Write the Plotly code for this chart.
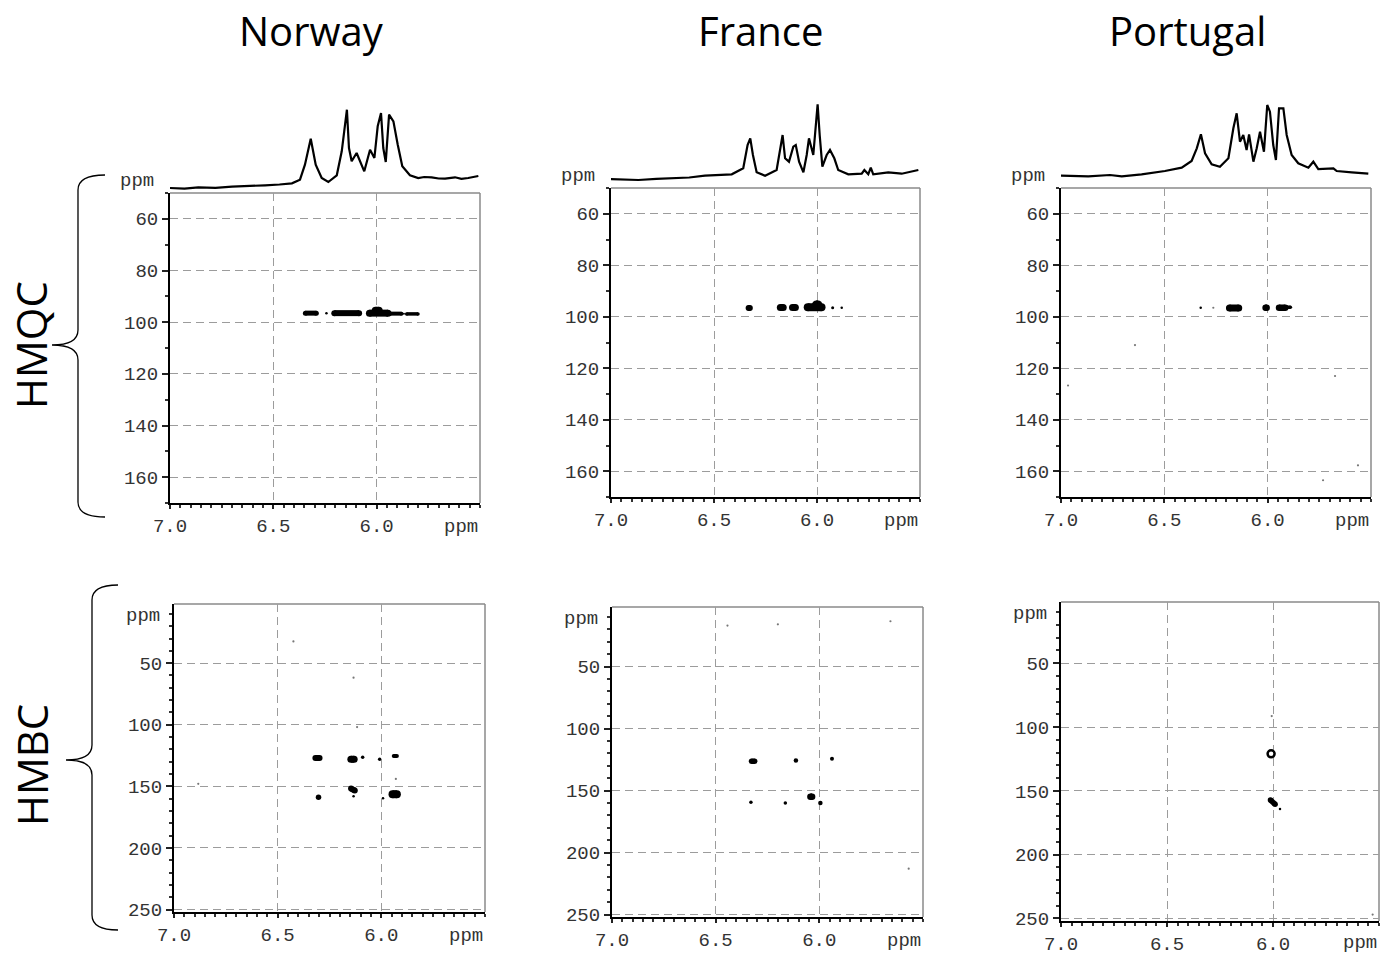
import plotly.graph_objects as go

W, H = 1396, 956

# ---------------- data ----------------
countries = ["Norway", "France", "Portugal"]
experiments = ["HMQC", "HMBC"]

x_tickvals = [7.0, 6.5, 6.0]
x_ticktext = ["7.0", "6.5", "6.0"]
hmqc_yticks = [60, 80, 100, 120, 140, 160]
hmbc_yticks = [50, 100, 150, 200, 250]

# 1D 1H projections (ppm, relative intensity)
spec_norway_ppm = [7.00, 6.93, 6.863, 6.78, 6.70, 6.62, 6.54, 6.47, 6.41, 6.371, 6.347, 6.319, 6.295, 6.266,
                   6.234, 6.193, 6.169, 6.157, 6.144, 6.134, 6.121, 6.097, 6.076, 6.06, 6.032, 6.011,
                   5.995, 5.979, 5.968, 5.956, 5.94, 5.919, 5.898, 5.876, 5.839, 5.799, 5.77, 5.734,
                   5.70, 5.669, 5.621, 5.59, 5.557, 5.508]
spec_norway_int = [5, 4.3, 5.7, 5.2, 6.3, 6.8, 7.7, 8.5, 9.7, 13.3, 28.3, 54.3, 28.3, 15,
                   11, 17.7, 41.7, 61.7, 83.3, 45, 31.7, 40, 30, 21.7, 43.3, 35,
                   66.7, 80, 45, 31, 78.3, 71.7, 48.3, 26.7, 17.7, 15, 16, 15.7,
                   14.5, 14.3, 15.7, 14.2, 15, 17]

spec_france_ppm = [7.005, 6.94, 6.867, 6.78, 6.705, 6.62, 6.544, 6.414, 6.358, 6.337, 6.324, 6.311, 6.293,
                   6.252, 6.196, 6.176, 6.167, 6.155, 6.136, 6.115, 6.103, 6.087, 6.066, 6.05, 6.039,
                   6.018, 6.006, 5.997, 5.987, 5.974, 5.953, 5.937, 5.916, 5.897, 5.848, 5.783, 5.77,
                   5.751, 5.739, 5.727, 5.654, 5.589, 5.508]
spec_france_int = [9, 8.2, 8, 9.2, 9.7, 10.5, 12.3, 13.7, 19.7, 43, 49.7, 33, 15.7,
                   12.3, 18, 39.7, 53, 29.7, 26.3, 41.3, 43, 26.3, 15.7, 33, 49.7,
                   33, 59.7, 83.7, 53, 21.3, 33, 38, 29.7, 18, 13.7, 14.3, 18,
                   13.7, 20.3, 13.7, 15.7, 14.3, 18]

spec_portugal_ppm = [7.005, 6.868, 6.763, 6.706, 6.61, 6.497, 6.416, 6.368, 6.343, 6.323, 6.303, 6.271,
                     6.231, 6.19, 6.166, 6.15, 6.134, 6.118, 6.102, 6.09, 6.069, 6.053, 6.037, 6.018,
                     6.002, 5.989, 5.973, 5.96, 5.945, 5.924, 5.908, 5.884, 5.852, 5.803, 5.779, 5.755,
                     5.682, 5.666, 5.593, 5.513]
spec_portugal_int = [12.3, 11.7, 13, 11.7, 13.7, 17, 20.3, 27, 39.7, 53.7, 34.7, 23.7,
                     21.3, 29.7, 59.7, 74.7, 46.3, 53, 38, 53.7, 26.3, 39.7, 56.3, 36.3,
                     83, 76.3, 43, 28, 79.7, 79.7, 53, 33, 24.7, 20.3, 26.3, 19,
                     19.7, 17, 15.7, 14.3]

# cross peaks: (1H start, 1H end, 13C start, 13C end, strength)
hmqc_norway = [(6.345, 6.292, 96.5, 96.5, 5), (6.243, 6.243, 96.5, 96.5, 2.5),
               (6.205, 6.085, 96.5, 96.5, 6), (6.035, 5.945, 96.5, 96.5, 7),
               (6.005, 5.99, 95.6, 95.6, 8), (5.935, 5.88, 96.7, 96.7, 4),
               (5.868, 5.868, 96.7, 96.7, 2), (5.855, 5.80, 96.8, 96.8, 3.5)]
hmqc_france = [(6.332, 6.326, 96.6, 96.6, 6), (6.178, 6.164, 96.4, 96.4, 7),
               (6.119, 6.105, 96.4, 96.4, 7), (6.045, 5.978, 96.3, 96.3, 8),
               (6.003, 5.995, 95.4, 95.4, 9), (5.924, 5.924, 96.5, 96.5, 3),
               (5.88, 5.88, 96.5, 96.5, 2.5)]
hmqc_portugal = [(6.324, 6.324, 96.5, 96.5, 2.5), (6.185, 6.14, 96.6, 96.6, 7),
                 (6.01, 6.005, 96.5, 96.5, 6.5), (5.945, 5.915, 96.5, 96.5, 6.5),
                 (5.91, 5.89, 96.3, 96.3, 3.5)]
hmqc_portugal_faint = [(6.263, 96.5), (6.642, 111), (6.966, 126.7), (5.674, 123), (5.563, 157.7), (5.732, 163.5)]

hmbc_norway = [(6.318, 6.298, 127.0, 127.0, 6), (6.147, 6.131, 128.0, 128.0, 7),
               (6.09, 6.09, 126.4, 126.4, 3.5), (6.008, 6.008, 128.0, 128.0, 3.5),
               (5.94, 5.925, 125.4, 125.4, 4), (6.303, 6.303, 158.8, 158.8, 5.5),
               (6.146, 6.128, 151.8, 153.4, 6), (6.134, 6.134, 158.0, 158.0, 2.5),
               (5.992, 5.992, 159.7, 159.7, 2.5), (5.946, 5.925, 156.4, 156.4, 8)]
hmbc_norway_faint = [(5.93, 144), (6.134, 61.8), (6.424, 32.4), (6.883, 148), (6.117, 101.9)]

hmbc_france = [(6.327, 6.312, 126.4, 126.4, 5.5), (6.113, 6.113, 125.8, 125.8, 4.5),
               (5.939, 5.939, 124.4, 124.4, 4), (6.33, 6.33, 159.4, 159.4, 3.5),
               (6.164, 6.164, 160.0, 160.0, 3.5), (6.043, 6.035, 155.0, 155.0, 6.5),
               (5.995, 5.995, 160.0, 160.0, 4.5)]
hmbc_france_faint = [(6.443, 17), (6.2, 16), (5.657, 13.5), (5.569, 213)]

hmbc_portugal = [(6.012, 5.99, 157.2, 160.6, 5.5), (5.967, 5.967, 164.3, 164.3, 2.5)]
hmbc_portugal_ring = [(6.009, 121.0)]
hmbc_portugal_faint = [(6.006, 91.4), (5.53, 247)]

# ---------------- layout geometry (pixels) ----------------
# (left, right, top, bottom) of each 2D plot box
boxes_hmqc = [(170, 480, 193, 503), (611, 920, 188, 497), (1061, 1371, 188, 497)]
boxes_hmbc = [(174, 485, 604, 912), (612, 923, 607, 917), (1061, 1379, 602, 921)]
title_x = [311, 760, 1187]

HMQC_RANGE = [170, 50]
HMBC_RANGE = [252, 2]
X_RANGE = [7.0, 5.5]
SPEC_RANGE = [0, 95]
SPEC_PX = 95


def fx(p):
    return p / W


def fy(p):
    return 1 - p / H


TICKFONT = dict(family="Liberation Mono, Courier New, monospace", size=19, color="#333")
GRID = dict(showgrid=True, gridcolor="#9c9c9c", griddash="8px,5px", gridwidth=1)

fig = go.Figure()
layout = dict(width=W, height=H, margin=dict(l=0, r=0, t=0, b=0, autoexpand=False),
              paper_bgcolor="white", plot_bgcolor="white", showlegend=False)
shapes = []
annotations = []


def add_2d_axes(idx, box, yrange, yticks):
    l, r, t, b = box
    xa = dict(domain=[fx(l), fx(r)], range=X_RANGE, anchor=f"y{idx}", automargin=False,
              tickmode="array", tickvals=x_tickvals, ticktext=x_ticktext,
              ticks="outside", ticklen=4, tickwidth=1.5, tickcolor="#222",
              showline=True, linecolor="black", linewidth=2, zeroline=False,
              tickfont=TICKFONT, fixedrange=True,
              minor=dict(tickmode="linear", tick0=5.5, dtick=0.05, ticks="outside",
                         ticklen=3, tickcolor="#333", showgrid=False), **GRID)
    ya = dict(domain=[fy(b), fy(t)], range=yrange, anchor=f"x{idx}", automargin=False,
              tickmode="array", tickvals=yticks, ticktext=[str(v) for v in yticks],
              ticks="outside", ticklen=6, tickwidth=1.5, tickcolor="#222",
              showline=True, linecolor="black", linewidth=2, zeroline=False,
              tickfont=TICKFONT, fixedrange=True,
              minor=dict(tickmode="linear", tick0=0, dtick=10, ticks="outside",
                         ticklen=3, tickcolor="#333", showgrid=False), **GRID)
    layout["xaxis" if idx == 1 else f"xaxis{idx}"] = xa
    layout["yaxis" if idx == 1 else f"yaxis{idx}"] = ya
    # thin grey frame on top and right
    shapes.append(dict(type="line", xref="paper", yref="paper", x0=fx(l), x1=fx(r), y0=fy(t), y1=fy(t),
                       line=dict(color="#8a8a8a", width=1.5), layer="below"))
    shapes.append(dict(type="line", xref="paper", yref="paper", x0=fx(r), x1=fx(r), y0=fy(t), y1=fy(b),
                       line=dict(color="#8a8a8a", width=1.5), layer="below"))
    # ppm unit labels
    annotations.append(dict(text="ppm", xref="paper", yref="paper", x=fx(r), y=fy(min(b + 24, 943)),
                            xanchor="right", yanchor="middle", showarrow=False, font=TICKFONT))


def add_peaks(idx, peaks, faint=None, rings=None):
    xa, ya = f"x{idx}", f"y{idx}"
    for (x0, x1, y0, y1, s) in peaks:
        if x0 == x1 and y0 == y1:
            fig.add_trace(go.Scatter(x=[x0], y=[y0], mode="markers", xaxis=xa, yaxis=ya,
                                     marker=dict(size=s, color="black", line=dict(width=0)),
                                     hoverinfo="skip"))
        else:
            fig.add_trace(go.Scatter(x=[x0, x1], y=[y0, y1], mode="lines+markers", xaxis=xa, yaxis=ya,
                                     line=dict(width=s, color="black"),
                                     marker=dict(size=s, color="black", line=dict(width=0)),
                                     hoverinfo="skip"))
    if faint:
        fig.add_trace(go.Scatter(x=[p[0] for p in faint], y=[p[1] for p in faint], mode="markers",
                                 xaxis=xa, yaxis=ya, hoverinfo="skip",
                                 marker=dict(size=2.2, color="#777", line=dict(width=0))))
    if rings:
        fig.add_trace(go.Scatter(x=[p[0] for p in rings], y=[p[1] for p in rings], mode="markers",
                                 xaxis=xa, yaxis=ya, hoverinfo="skip",
                                 marker=dict(size=7, symbol="circle-open", color="black",
                                             line=dict(width=2.5, color="black"))))


# HMQC panels (axes 1-3) with 1D spectra (axes 7-9)
specs = [(spec_norway_ppm, spec_norway_int), (spec_france_ppm, spec_france_int),
         (spec_portugal_ppm, spec_portugal_int)]
hmqc_sets = [(hmqc_norway, None), (hmqc_france, None), (hmqc_portugal, hmqc_portugal_faint)]
for i, box in enumerate(boxes_hmqc):
    idx = i + 1
    add_2d_axes(idx, box, HMQC_RANGE, hmqc_yticks)
    add_peaks(idx, hmqc_sets[i][0], hmqc_sets[i][1])
    l, r, t, b = box
    sidx = i + 7
    layout[f"xaxis{sidx}"] = dict(domain=[fx(l), fx(r)], range=X_RANGE, anchor=f"y{sidx}",
                                  visible=False, fixedrange=True, automargin=False)
    layout[f"yaxis{sidx}"] = dict(domain=[fy(t), fy(t - SPEC_PX)], range=SPEC_RANGE, anchor=f"x{sidx}",
                                  visible=False, fixedrange=True, automargin=False)
    fig.add_trace(go.Scatter(x=specs[i][0], y=specs[i][1], mode="lines", xaxis=f"x{sidx}",
                             yaxis=f"y{sidx}", line=dict(color="black", width=2.2), hoverinfo="skip"))
    annotations.append(dict(text="ppm", xref="paper", yref="paper", x=fx(l - 14), y=fy(t - 12),
                            xanchor="right", yanchor="middle", showarrow=False, font=TICKFONT))

# HMBC panels (axes 4-6)
hmbc_sets = [(hmbc_norway, hmbc_norway_faint, None), (hmbc_france, hmbc_france_faint, None),
             (hmbc_portugal, hmbc_portugal_faint, hmbc_portugal_ring)]
for i, box in enumerate(boxes_hmbc):
    idx = i + 4
    add_2d_axes(idx, box, HMBC_RANGE, hmbc_yticks)
    add_peaks(idx, *hmbc_sets[i])
    l, r, t, b = box
    annotations.append(dict(text="ppm", xref="paper", yref="paper", x=fx(l - 12), y=fy(t + 12),
                            xanchor="right", yanchor="middle", showarrow=False, font=TICKFONT))

# column titles
TITLEFONT = dict(family="Open Sans, Noto Sans, sans-serif", size=40, color="black")
for name, tx in zip(countries, title_x):
    annotations.append(dict(text=name, xref="paper", yref="paper", x=fx(tx), y=fy(30),
                            xanchor="center", yanchor="middle", showarrow=False, font=TITLEFONT))

# row labels
for name, ty in zip(experiments, [345, 765]):
    annotations.append(dict(text=name, xref="paper", yref="paper", x=fx(31), y=fy(ty),
                            xanchor="center", yanchor="middle", textangle=-90, showarrow=False,
                            font=dict(family="Open Sans, Noto Sans, sans-serif", size=42, color="black")))


# curly braces
def brace(xe, xs, xp, y0, ym, y1):
    r = 15
    pts = [("M", xe, y0), ("Q", xs, y0, xs, y0 + r), ("L", xs, ym - r),
           ("Q", xs, ym, xp, ym), ("Q", xs, ym, xs, ym + r), ("L", xs, y1 - r),
           ("Q", xs, y1, xe, y1)]
    s = ""
    for p in pts:
        cmd = p[0]
        coords = p[1:]
        pairs = []
        for k in range(0, len(coords), 2):
            pairs.append(f"{fx(coords[k]):.5f},{fy(coords[k + 1]):.5f}")
        s += cmd + " " + " ".join(pairs) + " "
    return s.strip()


shapes.append(dict(type="path", xref="paper", yref="paper", path=brace(105, 78, 52, 175, 345, 517),
                   line=dict(color="black", width=1.3)))
shapes.append(dict(type="path", xref="paper", yref="paper", path=brace(118, 92, 66, 585, 760, 930),
                   line=dict(color="black", width=1.3)))

layout["shapes"] = shapes
layout["annotations"] = annotations
fig.update_layout(**layout)
fig.write_html("out.html")
